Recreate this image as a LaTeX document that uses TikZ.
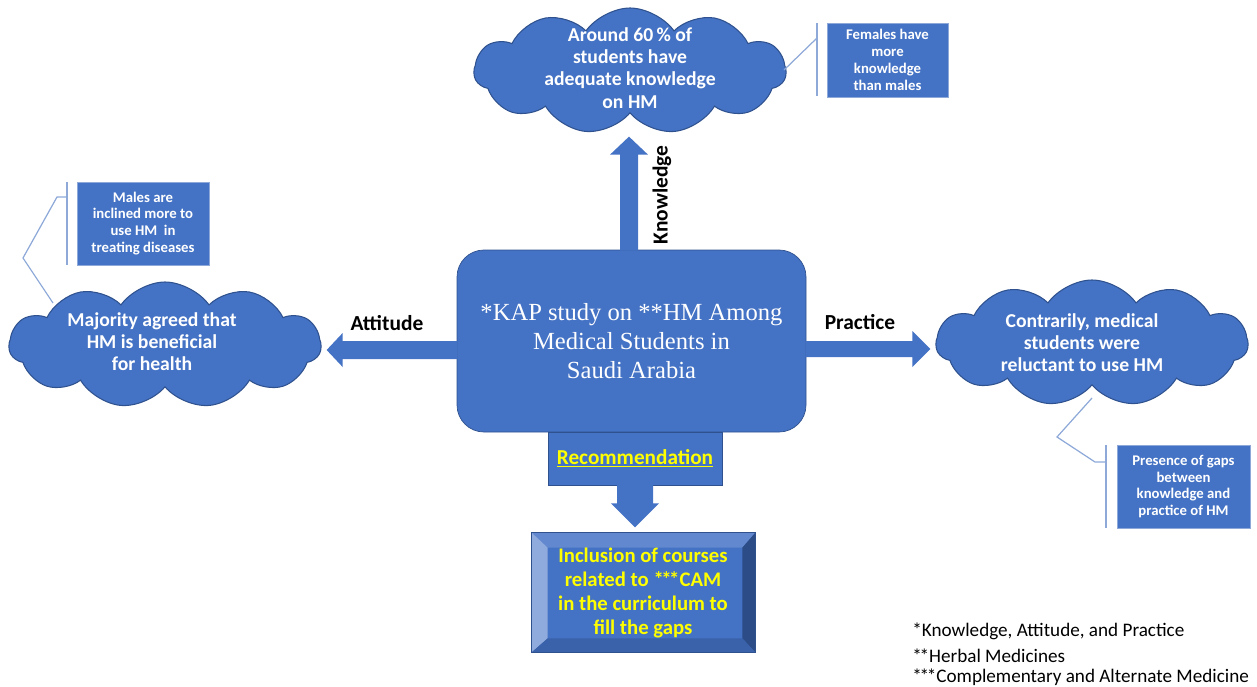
\documentclass[tikz,border=0pt]{standalone}
\usepackage{fontspec}
\setmainfont{Liberation Serif}
\newfontfamily\calfont{Carlito}
\usetikzlibrary{shapes.symbols,calc}
\definecolor{ofblue}{HTML}{4472C4}
\definecolor{ofdark}{HTML}{2F528F}
\definecolor{linec}{HTML}{8EA9D8}
\definecolor{yel}{HTML}{FFFF00}
\definecolor{bevtop}{HTML}{6288CF}
\definecolor{bevleft}{HTML}{8FAADC}
\definecolor{bevright}{HTML}{2B4C86}
\definecolor{bevbot}{HTML}{3A62AA}
\newcommand{\px}{0.02cm}
\newcommand{\sts}{*\kern-0.12em}
\begin{document}
\begin{tikzpicture}[x=0.02cm,y=-0.02cm,
  cloudn/.style={cloud, cloud puffs=11, cloud puff arc=110, cloud ignores aspect, fill=ofblue, draw=ofdark, line width=0.6pt, inner sep=0pt},
  cloudtext/.style={text=white, font=\calfont\bfseries\fontsize{11.2}{12.6}\selectfont, align=center},
  callout/.style={rectangle, fill=ofblue, draw=linec, line width=0.4pt, text=white, font=\calfont\bfseries\fontsize{8.4}{9.6}\selectfont, align=center, inner sep=0pt},
  bracket/.style={draw=linec, line width=0.7pt},
  lbl/.style={font=\calfont\bfseries\fontsize{12.2}{13}\selectfont, text=black},
  blockarrow/.style={fill=ofblue},
  foot/.style={anchor=west, font=\calfont\fontsize{10.9}{12}\selectfont, text=black, inner sep=0pt}
]
\useasboundingbox (0,0) rectangle (1257,686);

% central box
\node[rectangle, rounded corners=0.54cm, fill=ofblue, draw=ofdark, line width=0.4pt,
      minimum width=349*\px, minimum height=182*\px, text=white, align=center,
      font=\fontsize{14}{16.4}\selectfont] (main) at (631.5,341)
      {*KAP study on **HM Among\\Medical Students in\\Saudi Arabia};

% clouds
\node[cloudn, minimum width=312*\px, minimum height=126*\px] (kc) at (630,71) {};
\node[cloudtext] (kt) at (630,68) {Around 60\,\% of\\students have\\adequate knowledge\\on HM};
\node[cloudn, minimum width=312*\px, minimum height=126*\px] (ac) at (165,345) {};
\node[cloudtext] (at) at (152,342) {Majority agreed that\\HM is beneficial\\for health};
\node[cloudn, minimum width=312*\px, minimum height=126*\px] (pc) at (1092,343) {};
\node[cloudtext] (pt) at (1082,343) {Contrarily, medical\\students were\\reluctant to use HM};

% callouts
\node[callout, minimum width=121*\px, minimum height=74*\px] (kb) at (887.5,60) {Females have\\more\\knowledge\\than males};
\node[callout, minimum width=132*\px, minimum height=83*\px] (ab) at (143,223.5) {Males are\\inclined more to\\use HM\ \ in\\treating diseases};
\node[callout, minimum width=133*\px, minimum height=83*\px] (pb) at (1183.5,486.5) {Presence of gaps\\between\\knowledge and\\practice of HM};

% brackets
\coordinate (kb1) at (817,23); \coordinate (kb2) at (817,96); \coordinate (kbj) at (817,38);
\coordinate (kcp) at (784,70);
\draw[bracket] (kb1) -- (kb2);
\draw[bracket] (kcp) -- (kbj);
\coordinate (ab1) at (67,182); \coordinate (ab2) at (67,265); \coordinate (abj) at (67,197);
\coordinate (ab3) at (57,197); \coordinate (ab4) at (23,258); \coordinate (acp) at (53,303);
\draw[bracket] (ab1) -- (ab2);
\draw[bracket] (acp) -- (ab4) -- (ab3) -- (abj);
\coordinate (pb1) at (1106,445); \coordinate (pb2) at (1106,528); \coordinate (pbj) at (1106,462);
\coordinate (pb3) at (1095,462); \coordinate (pb4) at (1057,437); \coordinate (pcp) at (1092,398);
\draw[bracket] (pb1) -- (pb2);
\draw[bracket] (pcp) -- (pb4) -- (pb3) -- (pbj);

% up arrow (Knowledge)
\begin{scope}[shift={(main.north)}]
\fill[blockarrow] (-11.5,1) -- (-11.5,-95) -- (-21.5,-95) -- (-2.5,-113) -- (16.5,-95) -- (6.5,-95) -- (6.5,1) -- cycle;
\end{scope}
% left arrow (Attitude)
\begin{scope}[shift={(main.west)}]
\fill[blockarrow] (1,0) -- (-114,0) -- (-114,-8) -- (-130,9) -- (-114,26) -- (-114,18) -- (1,18) -- cycle;
\end{scope}
% right arrow (Practice)
\begin{scope}[shift={(main.east)}]
\fill[blockarrow] (-1,0) -- (106,0) -- (106,-10) -- (124,8) -- (106,26) -- (106,16) -- (-1,16) -- cycle;
\end{scope}

\node[lbl] (kl) at (662,195) [rotate=90] {Knowledge};
\node[lbl] (al) at (387,323) {Attitude};
\node[lbl] (pl) at (860,322) {Practice};

% recommendation
\node[rectangle, fill=ofblue, draw=ofdark, line width=0.3pt, minimum width=174*\px, minimum height=53*\px,
      text=yel, font=\calfont\bfseries\fontsize{12.1}{13}\selectfont] (rb) at (635,458.5) {\underline{Recommendation}};
\begin{scope}[shift={(rb.south)}]
\fill[blockarrow] (-18,-1) -- (-18,18) -- (-24,18) -- (0,42) -- (24,18) -- (18,18) -- (18,-1) -- cycle;
\end{scope}

% bevel box
\node[rectangle, fill=ofblue, minimum width=223*\px, minimum height=119*\px, inner sep=0pt] (cb) at (643.5,592.5) {};
\fill[bevtop] (cb.north west) -- (cb.north east) -- ($(cb.north east)+(-13,15)$) -- ($(cb.north west)+(16,15)$) -- cycle;
\fill[bevleft] (cb.north west) -- ($(cb.north west)+(16,15)$) -- ($(cb.south west)+(16,-14)$) -- (cb.south west) -- cycle;
\fill[bevright] (cb.north east) -- ($(cb.north east)+(-13,15)$) -- ($(cb.south east)+(-13,-14)$) -- (cb.south east) -- cycle;
\fill[bevbot] (cb.south west) -- ($(cb.south west)+(16,-14)$) -- ($(cb.south east)+(-13,-14)$) -- (cb.south east) -- cycle;
\draw[ofdark, line width=0.4pt] (cb.north west) rectangle (cb.south east);
\node[text=yel, font=\calfont\bfseries\fontsize{11.8}{13.6}\selectfont, align=center] (ct) at (643,593)
  {Inclusion of courses\\related to \sts\sts*CAM\\in the curriculum to\\fill the gaps};

% footnotes
\node[foot] (f1) at (912,631) {*Knowledge, Attitude, and Practice};
\node[foot] (f2) at (912,656) {\sts*Herbal Medicines};
\node[foot] (f3) at (912,677) {\sts\sts*Complementary and Alternate Medicine};
\end{tikzpicture}
\end{document}
